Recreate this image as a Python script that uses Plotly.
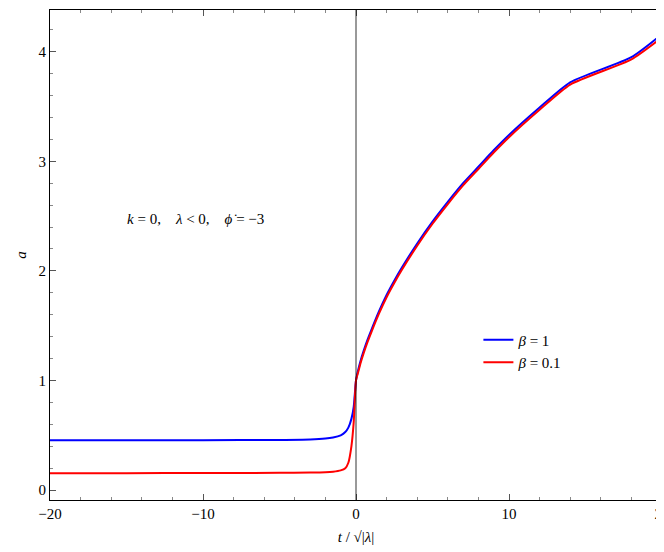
import plotly.graph_objects as go

t = [-20, -15, -10, -5, -3, -2, -1.5, -1, -0.7, -0.5, -0.3, -0.15, 0, 0.15, 0.3, 0.5, 0.75, 1, 1.5, 2, 2.5, 3, 4, 5, 6, 7, 8, 9, 10, 12, 14, 16, 18, 20]
a_blue = [0.455, 0.455, 0.456, 0.458, 0.462, 0.47, 0.48, 0.5, 0.53, 0.57, 0.65, 0.76, 1.0, 1.1, 1.18, 1.27, 1.37, 1.46, 1.63, 1.78, 1.91, 2.03, 2.25, 2.45, 2.63, 2.8, 2.95, 3.1, 3.24, 3.49, 3.72, 3.94, 4.15, 4.16]
a_red = [0.155, 0.155, 0.156, 0.158, 0.16, 0.163, 0.168, 0.18, 0.2, 0.25, 0.4, 0.62, 1.0, 1.08, 1.16, 1.25, 1.35, 1.44, 1.61, 1.76, 1.89, 2.01, 2.23, 2.43, 2.61, 2.78, 2.93, 3.08, 3.22, 3.47, 3.7, 3.92, 4.13, 4.13]
# trim last duplicate-ish points
t = t[:-1]; a_blue = a_blue[:-1]; a_red = a_red[:-1]
t[-1] = 20; a_blue[-1] = 4.16; a_red[-1] = 4.13
a_blue[-2] = 3.95; a_red[-2] = 3.93
t[-2] = 18

font = dict(family="Liberation Serif", size=15, color="black")
fig = go.Figure()
fig.add_trace(go.Scatter(x=t, y=a_blue, mode="lines", line=dict(color="#0000ff", width=2, shape="spline", smoothing=0.6), name="<i>β</i> = 1"))
fig.add_trace(go.Scatter(x=t, y=a_red, mode="lines", line=dict(color="#ff0000", width=2, shape="spline", smoothing=0.6), name="<i>β</i> = 0.1"))
fig.add_vline(x=0, line=dict(color="black", width=0.8))
ax = dict(showgrid=False, zeroline=False, showline=True, linecolor="black", linewidth=1, mirror="allticks",
          ticks="inside", ticklen=6, tickcolor="#555", tickfont=font)
fig.update_xaxes(range=[-20, 20], tickvals=[-20, -10, 0, 10, 20], ticktext=["−20", "−10", "0", "10", "20"],
                 minor=dict(ticks="inside", ticklen=3, dtick=2, tickcolor="#888"),
                 title=dict(text="<i>t</i> / √|<i>λ</i>|", font=font, standoff=10), **ax)
fig.update_yaxes(range=[-0.09, 4.38], tickvals=[0, 1, 2, 3, 4],
                 minor=dict(ticks="inside", ticklen=3, dtick=0.2, tickcolor="#888"),
                 title=dict(text="<i>a</i>", font=font, standoff=8), **ax)
fig.add_annotation(x=-10.5, y=2.47, text="<i>k</i> = 0,    <i>λ</i> < 0,    <i>ϕ̇</i> = −3", showarrow=False, font=font)
fig.update_layout(width=664, height=552, margin=dict(l=42, r=10, t=2, b=60), plot_bgcolor="white", paper_bgcolor="white",
                  font=font, legend=dict(x=0.7, y=0.36, xanchor="left", yanchor="top", bgcolor="rgba(0,0,0,0)", font=font))
fig.write_html("out.html")
